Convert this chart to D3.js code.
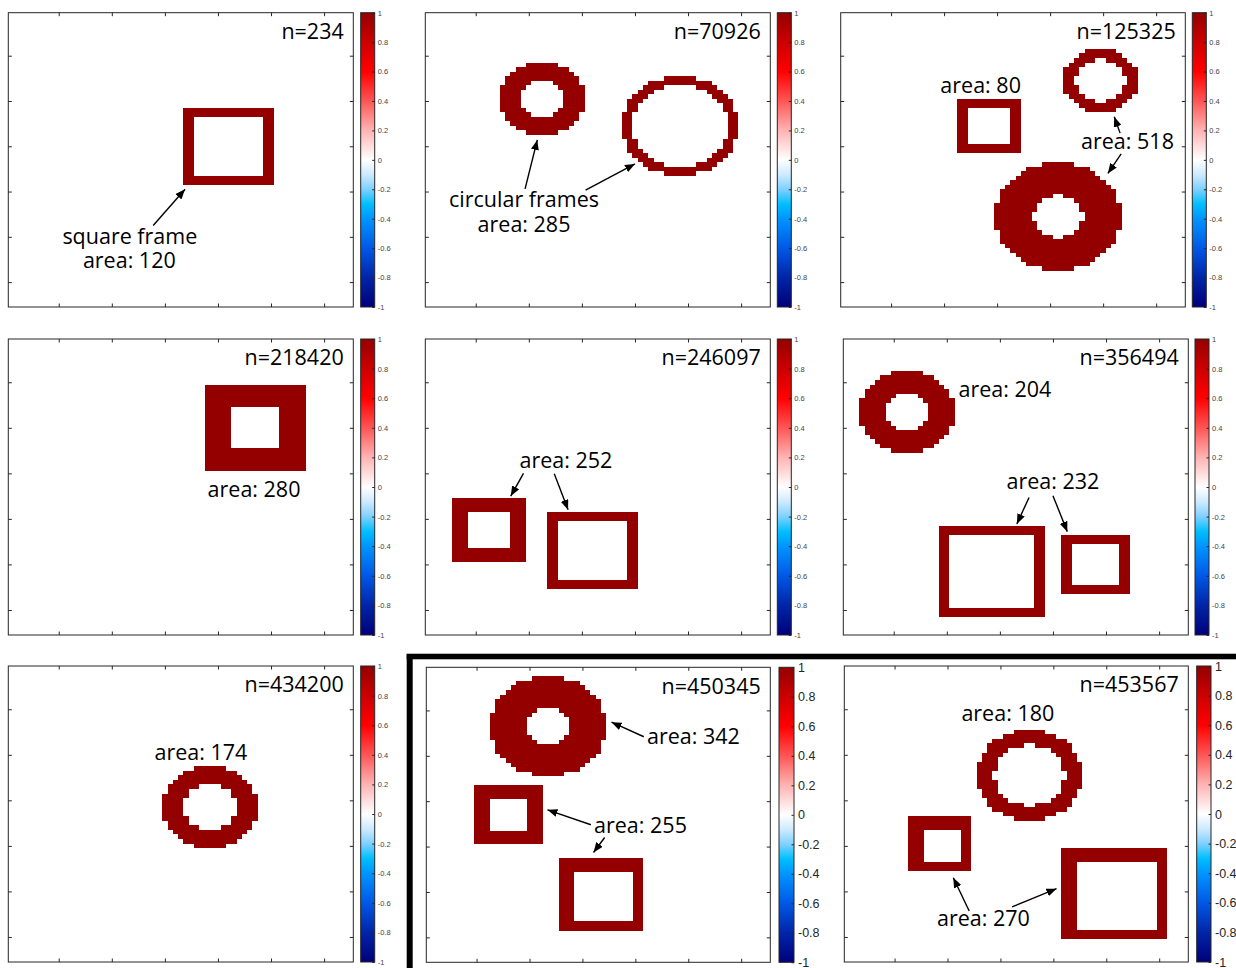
<!DOCTYPE html>
<html>
<head>
<meta charset="utf-8">
<script src="https://cdn.jsdelivr.net/npm/d3@7"></script>
<style>
body{margin:0;background:#fff}
.note{font-family:"Open Sans",sans-serif;font-size:21.5px;fill:#000}
.cbar text{font-family:"Liberation Sans",Arial,sans-serif}
</style>
</head>
<body>
<div id="chart"></div>
<script>
// every panel is a 65x65 image (imagesc style, rows go down)
var gridSize = 65;
var tickVals = [10, 20, 30, 40, 50, 60];
var cbarTicks = [1, 0.8, 0.6, 0.4, 0.2, 0, -0.2, -0.4, -0.6, -0.8, -1];
var panelNames = ["n=234", "n=70926", "n=125325", "n=218420", "n=246097",
                  "n=356494", "n=434200", "n=450345", "n=453567"];

// square frames: panel, outer cols, outer rows, hole cols, hole rows (pixel indices)
var squareFrames = [
  [0, [34, 50], [22, 38], [36, 48], [24, 36]],
  [2, [23, 34], [20, 31], [25, 32], [22, 29]],
  [3, [38, 56], [11, 29], [43, 51], [16, 24]],
  [4, [6, 19], [36, 49], [9, 16], [39, 46]],
  [4, [24, 40], [39, 55], [26, 38], [41, 53]],
  [5, [19, 38], [42, 61], [21, 36], [44, 59]],
  [5, [42, 54], [44, 56], [44, 52], [46, 54]],
  [7, [10, 22], [27, 39], [13, 19], [30, 36]],
  [7, [26, 41], [43, 58], [29, 39], [46, 56]],
  [8, [13, 24], [34, 45], [16, 22], [37, 43]],
  [8, [42, 61], [41, 60], [45, 59], [44, 58]]
];
// circular frames: panel, centre col, centre row, outer radius, inner radius
var circularFrames = [
  [1, 22.5, 19.5, 8, 4.3],
  [1, 48.5, 25.5, 11, 9],
  [2, 49.5, 15.5, 7, 4.6],
  [2, 41.5, 45.5, 12, 4.6],
  [5, 12.5, 16.5, 9, 4],
  [6, 38.5, 31.5, 9, 5],
  [7, 23.5, 13.5, 11, 4],
  [8, 35.5, 24.5, 10, 6.6]
];
// text notes: panel, text, col, row, anchor
var notes = [
  [0, "square frame", 23.4, 51.6, "middle"],
  [0, "area: 120", 23.3, 56.9, "middle"],
  [1, "circular frames", 19.1, 43.5, "middle"],
  [1, "area: 285", 19.1, 49.0, "middle"],
  [2, "area: 80", 26.9, 18.3, "middle"],
  [2, "area: 518", 54.6, 30.6, "middle"],
  [3, "area: 280", 46.8, 35.3, "middle"],
  [4, "area: 252", 27.0, 28.8, "middle"],
  [5, "area: 204", 22.2, 13.2, "start"],
  [5, "area: 232", 40.0, 33.5, "middle"],
  [6, "area: 174", 36.8, 21.1, "middle"],
  [7, "area: 342", 42.2, 17.4, "start"],
  [7, "area: 255", 32.2, 36.9, "start"],
  [8, "area: 180", 31.4, 12.6, "middle"],
  [8, "area: 270", 26.8, 57.7, "middle"]
];
// arrows: panel, from col,row  to col,row
var arrows = [
  [0, 27.8, 47.5, 33.8, 39.5],
  [1, 19.3, 39.4, 21.6, 28.6],
  [1, 30.7, 39.7, 40.0, 33.9],
  [2, 53.2, 27.1, 52.1, 23.5],
  [2, 53.4, 31.7, 50.9, 36.0],
  [4, 19.0, 30.0, 16.6, 35.0],
  [4, 24.8, 30.1, 27.4, 38.0],
  [5, 35.5, 35.3, 33.2, 41.1],
  [5, 40.0, 34.9, 42.7, 42.8],
  [7, 41.6, 15.8, 35.5, 12.6],
  [7, 31.6, 35.2, 23.4, 31.9],
  [7, 34.2, 38.0, 32.1, 41.3],
  [8, 24.1, 54.3, 21.1, 47.0],
  [8, 32.2, 53.4, 40.6, 49.4]
];
// red-white-blue colormap
var cmapVals = [-1, -0.8, -0.6, -0.4, -0.3, -0.2, -0.1, 0, 0.2, 0.4, 0.6, 0.8, 1];
var cmapCols = ["#00007a", "#0025a8", "#0058e6", "#0095ff", "#00bfff", "#7fd0ff", "#cdeaff",
                "#ffffff", "#ffb3b3", "#ff5555", "#ff0000", "#cc0000", "#940000"];

// layout of the 3x3 grid of panels
var boxes = [
  {x0: 8.3, y0: 12.7, x1: 353.3, y1: 307, cb: 360.7, cbw: 14, big: false},
  {x0: 425.3, y0: 12.7, x1: 770.3, y1: 307, cb: 777.3, cbw: 14, big: false},
  {x0: 840.7, y0: 12.7, x1: 1185.3, y1: 307, cb: 1192.3, cbw: 14, big: false},
  {x0: 8.3, y0: 339, x1: 353.3, y1: 635, cb: 360.7, cbw: 14, big: false},
  {x0: 425.3, y0: 339, x1: 770.3, y1: 635, cb: 777.3, cbw: 14, big: false},
  {x0: 843.3, y0: 339, x1: 1188.3, y1: 635, cb: 1195, cbw: 14, big: false},
  {x0: 8.3, y0: 666, x1: 353.3, y1: 962, cb: 360.7, cbw: 14, big: false},
  {x0: 426.3, y0: 667.3, x1: 770.3, y1: 962.3, cb: 779, cbw: 15, big: true},
  {x0: 844.3, y0: 666, x1: 1188.3, y1: 962, cb: 1196.7, cbw: 14.3, big: true}
];

var color = d3.scaleLinear().domain(cmapVals).range(cmapCols).clamp(true);

var svg = d3.select("#chart").append("svg")
  .attr("width", 1236).attr("height", 968)
  .style("background", "#fff");

var defs = svg.append("defs");
defs.append("marker").attr("id", "head")
  .attr("markerUnits", "userSpaceOnUse")
  .attr("markerWidth", 11).attr("markerHeight", 8)
  .attr("refX", 10).attr("refY", 4).attr("orient", "auto")
  .append("path").attr("d", "M0,0L10,4L0,8z").attr("fill", "#000");

var grad = defs.append("linearGradient").attr("id", "cmap")
  .attr("x1", 0).attr("y1", 1).attr("x2", 0).attr("y2", 0);
grad.selectAll("stop").data(cmapVals).enter().append("stop")
  .attr("offset", function(d){ return (d + 1) / 2; })
  .attr("stop-color", function(d){ return color(d); });

function buildImage(p){
  var img = [];
  for (var r = 1; r <= gridSize; r++){
    for (var c = 1; c <= gridSize; c++){
      var v = 0;
      squareFrames.forEach(function(f){
        if (f[0] !== p) return;
        var inOut = c >= f[1][0] && c <= f[1][1] && r >= f[2][0] && r <= f[2][1];
        var inHole = c >= f[3][0] && c <= f[3][1] && r >= f[4][0] && r <= f[4][1];
        if (inOut && !inHole) v = 1;
      });
      circularFrames.forEach(function(f){
        if (f[0] !== p) return;
        var d = Math.hypot(c - f[1], r - f[2]);
        if (d <= f[3] && d >= f[4]) v = 1;
      });
      if (v !== 0) img.push({c: c, r: r, v: v});
    }
  }
  return img;
}

boxes.forEach(function(b, p){
  var x = d3.scaleLinear().domain([0.5, gridSize + 0.5]).range([b.x0, b.x1]);
  var y = d3.scaleLinear().domain([0.5, gridSize + 0.5]).range([b.y0, b.y1]);
  var g = svg.append("g");

  // cell edges snapped to whole pixels so neighbouring cells leave no seams
  var xe = function(v){ return Math.round(x(v)); };
  var ye = function(v){ return Math.round(y(v)); };
  g.append("g").attr("shape-rendering", "crispEdges")
    .selectAll("rect").data(buildImage(p)).enter().append("rect")
    .attr("x", function(d){ return xe(d.c - 0.5); })
    .attr("y", function(d){ return ye(d.r - 0.5); })
    .attr("width", function(d){ return xe(d.c + 0.5) - xe(d.c - 0.5); })
    .attr("height", function(d){ return ye(d.r + 0.5) - ye(d.r - 0.5); })
    .attr("fill", function(d){ return color(d.v); });

  // axes box with inward ticks, no labels
  var ax = [
    [d3.axisBottom(x), "translate(0," + b.y1 + ")"],
    [d3.axisTop(x), "translate(0," + b.y0 + ")"],
    [d3.axisLeft(y), "translate(" + b.x0 + ",0)"],
    [d3.axisRight(y), "translate(" + b.x1 + ",0)"]
  ];
  ax.forEach(function(a){
    var s = g.append("g").attr("transform", a[1])
      .call(a[0].tickValues(tickVals).tickSize(-3.5).tickSizeOuter(0).tickFormat(""));
    s.select(".domain").remove();
    s.selectAll("line").attr("stroke", "#262626");
  });
  g.append("rect").attr("x", b.x0).attr("y", b.y0)
    .attr("width", b.x1 - b.x0).attr("height", b.y1 - b.y0)
    .attr("fill", "none").attr("stroke", "#262626").attr("stroke-width", 1);

  g.append("text").attr("class", "note")
    .attr("x", x(63.7)).attr("y", y(6.3))
    .attr("text-anchor", "end").text(panelNames[p]);

  g.selectAll("text.area").data(notes.filter(function(n){ return n[0] === p; }))
    .enter().append("text").attr("class", "note area")
    .attr("x", function(d){ return x(d[2]); })
    .attr("y", function(d){ return y(d[3]); })
    .attr("text-anchor", function(d){ return d[4]; })
    .text(function(d){ return d[1]; });

  g.selectAll("line.arrow").data(arrows.filter(function(a){ return a[0] === p; }))
    .enter().append("line").attr("class", "arrow")
    .attr("x1", function(d){ return x(d[1]); })
    .attr("y1", function(d){ return y(d[2]); })
    .attr("x2", function(d){ return x(d[3]); })
    .attr("y2", function(d){ return y(d[4]); })
    .attr("stroke", "#000").attr("stroke-width", 1.4)
    .attr("marker-end", "url(#head)");

  // colorbar
  var cy = d3.scaleLinear().domain([-1, 1]).range([b.y1, b.y0]);
  var cb = svg.append("g").attr("class", "cbar");
  cb.append("rect").attr("x", b.cb).attr("y", b.y0)
    .attr("width", b.cbw).attr("height", b.y1 - b.y0)
    .attr("fill", "url(#cmap)").attr("stroke", "#262626").attr("stroke-width", 1);
  var cax = cb.append("g").attr("transform", "translate(" + (b.cb + b.cbw) + ",0)")
    .call(d3.axisRight(cy).tickValues(cbarTicks).tickSize(-2.5).tickSizeOuter(0)
      .tickPadding(b.big ? 4 : 3)
      .tickFormat(function(d){ return String(+d.toFixed(1)); }));
  cax.select(".domain").remove();
  cax.selectAll("line").attr("stroke", "#262626");
  cax.selectAll("text")
    .attr("font-size", b.big ? 12.5 : 7.5)
    .attr("fill", b.big ? "#262626" : "#444")
    .attr("font-family", "Liberation Sans, Arial, sans-serif");
});

// thick frame around the last two panels
svg.append("rect").attr("x", 406.7).attr("y", 653.3).attr("width", 1236 - 406.7).attr("height", 1)
  .attr("fill", "#999");
svg.append("rect").attr("x", 406.7).attr("y", 654).attr("width", 1236 - 406.7).attr("height", 5.3)
  .attr("fill", "#000");
svg.append("rect").attr("x", 406.7).attr("y", 654).attr("width", 6).attr("height", 968 - 654)
  .attr("fill", "#000");
</script>
</body>
</html>
